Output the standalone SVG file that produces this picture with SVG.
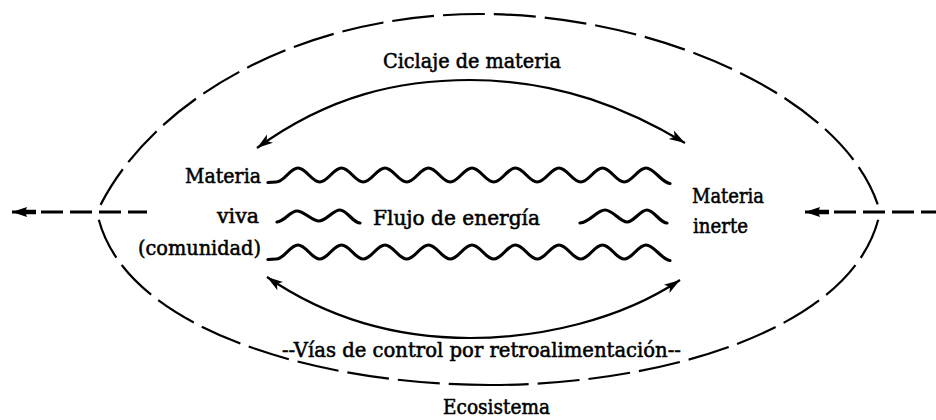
<svg xmlns="http://www.w3.org/2000/svg" width="936" height="420" viewBox="0 0 936 420">
<defs>
<style>
.t{font-family:'DejaVu Serif','Liberation Serif',serif;font-size:20px;fill:#000;stroke:#000;stroke-width:0.55}
.ell{fill:none;stroke:#000;stroke-width:2.2;stroke-dasharray:42 9;stroke-dashoffset:43}
.arc{fill:none;stroke:#000;stroke-width:2.2;marker-start:url(#ah);marker-end:url(#ah)}
.wave{fill:none;stroke:#000;stroke-width:3.2;stroke-linecap:round;stroke-linejoin:round}
.hz{fill:none;stroke:#000;stroke-width:2.8;stroke-dasharray:22 7;marker-start:url(#big)}
</style>
<marker id="ah" markerUnits="userSpaceOnUse" markerWidth="30" markerHeight="20" refX="16" refY="0" orient="auto-start-reverse" overflow="visible">
<path d="M0,-5 L16,0 L0,5 L4,0 Z" fill="#000"/>
</marker>
<marker id="big" markerUnits="userSpaceOnUse" markerWidth="40" markerHeight="20" refX="24" refY="0" orient="auto-start-reverse" overflow="visible">
<path d="M24,0 L9,-5 L10,-2.2 L0,-2.2 L0,2.2 L10,2.2 L9,5 Z" fill="#000"/>
</marker>
<path id="longwave" d="M268,182.5 Q272,182 276.25,182 C 284.25,182 290,168 298,168 S 311.75,182 319.75,182 S 333.5,168 341.5,168 S 355.25,182 363.25,182 S 377,168 385,168 S 398.75,182 406.75,182 S 420.5,168 428.5,168 S 442.25,182 450.25,182 S 464,168 472,168 S 485.75,182 493.75,182 S 507.5,168 515.5,168 S 529.25,182 537.25,182 S 551,168 559,168 S 572.75,182 580.75,182 S 594.5,168 602.5,168 S 616.25,182 624.25,182 S 638,168 646,168 S 662,183 670,183.5"/>
</defs>
<rect x="0" y="0" width="936" height="420" fill="#fff"/>

<g id="ecosistema-boundary">
<path class="ell" d="M97,212 C 150,100 300,14 480,14"/>
<path class="ell" d="M880,212 C 850,100 660,14 480,14"/>
<path class="ell" d="M97,212 C 120,330 320,385 490,385"/>
<path class="ell" d="M880,212 C 857,330 660,385 490,385"/>
</g>

<g id="connectors">
<path id="ciclaje-arc" class="arc" d="M257,148 C 330,95 400,80 470,80 C 560,80 630,110 685,143"/>
<path id="retro-arc" class="arc" d="M267,277 C 330,320 400,338 470,338 C 540,338 620,320 680,280"/>
<path id="out-left" class="hz" d="M12,212 L147,212"/>
<path id="in-right" class="hz" d="M805,212 L936,212"/>
<g id="flujo-energia-waves">
<use href="#longwave" class="wave"/>
<use href="#longwave" class="wave" transform="translate(0,77)"/>
<path class="wave" d="M277,222 C 285,221 290,211 297,211 S 312,221 319,221 S 333,210 340,210 S 353,223 360,223"/>
<path class="wave" d="M580,223 C 590,222 597,210 605,210 S 620,222 627,222 S 640,210 647,210 S 660,223 667,223"/>
</g>
</g>

<g id="label-ciclaje"><text class="t" x="383" y="68" textLength="178" lengthAdjust="spacingAndGlyphs">Ciclaje de materia</text></g>
<g id="node-materia-viva">
<text class="t" x="185" y="183" textLength="76" lengthAdjust="spacingAndGlyphs">Materia</text>
<text class="t" x="217" y="223" textLength="42" lengthAdjust="spacingAndGlyphs">viva</text>
<text class="t" x="138" y="255" textLength="123" lengthAdjust="spacingAndGlyphs">(comunidad)</text>
</g>
<g id="label-flujo"><text class="t" x="373" y="225" textLength="167" lengthAdjust="spacingAndGlyphs">Flujo de energía</text></g>
<g id="node-materia-inerte">
<text class="t" x="692" y="203" textLength="72" lengthAdjust="spacingAndGlyphs">Materia</text>
<text class="t" x="693" y="233" textLength="55" lengthAdjust="spacingAndGlyphs">inerte</text>
</g>
<g id="label-retro"><text class="t" x="282" y="357" textLength="399" lengthAdjust="spacingAndGlyphs">--Vías de control por retroalimentación--</text></g>
<g id="label-ecosistema"><text class="t" x="443" y="414" textLength="107" lengthAdjust="spacingAndGlyphs">Ecosistema</text></g>
</svg>
